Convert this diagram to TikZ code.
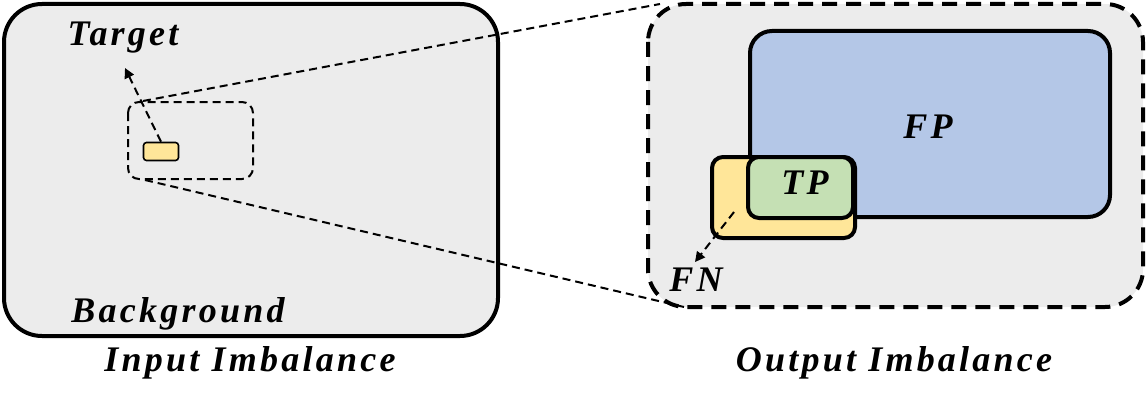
\documentclass[tikz,border=0pt]{standalone}
\usepackage{fontspec}
\setmainfont{Liberation Serif}
\usetikzlibrary{arrows.meta}
\definecolor{bgg}{HTML}{ECECEC}
\definecolor{yel}{HTML}{FFE699}
\definecolor{blu}{HTML}{B4C7E7}
\definecolor{grn}{HTML}{C5E0B4}
\begin{document}
\begin{tikzpicture}[x=1pt,y=-1pt,
  lbl/.style={font=\fontsize{36}{38}\selectfont\bfseries\itshape\addfontfeature{LetterSpace=9}},
  thick box/.style={line width=4pt},
  dline/.style={dashed,line width=2pt,dash pattern=on 8pt off 5pt}]
\useasboundingbox (0,0) rectangle (1147,404);
% left
\draw[thick box,fill=bgg,rounded corners=38pt] (4,4) rectangle (498,336);
\draw[dline,rounded corners=11pt] (128,102) rectangle (253,179);
\node[draw,line width=1.6pt,fill=yel,rounded corners=3pt,minimum width=35pt,minimum height=18pt,inner sep=0pt] (tgt) at (161,151.5) {};
\coordinate (ta) at (125,68);
\draw[dline,-{Triangle[length=10pt,width=10pt]}] (tgt.north) -- (ta);
\node[lbl] (target) at (123,38) {Target};
\node[lbl] (bg) at (178,314) {Background};
\node[lbl] (in) at (250,363) {Input Imbalance};
% right
\draw[thick box,fill=bgg,rounded corners=38pt,dashed,dash pattern=on 15pt off 9pt] (648,4) rectangle (1143,307);
\node[draw,thick box,fill=blu,rounded corners=22pt,minimum width=360pt,minimum height=186pt,inner sep=0pt] (fp) at (930,124) {};
\node[draw,thick box,fill=yel,rounded corners=11pt,minimum width=143pt,minimum height=81pt,inner sep=0pt] (fn) at (783.5,197.5) {};
\node[draw,thick box,fill=grn,rounded corners=11pt,minimum width=105pt,minimum height=61pt,inner sep=0pt] (tp) at (800.5,187.5) {};
\node[lbl] at (928,127) {FP};
\node[lbl] at (805,183) {TP};
\node[lbl] (fnl) at (696,280) {FN};
\coordinate (fa) at (734,212);
\coordinate (fb) at (695,262);
\draw[dline,-{Triangle[length=10pt,width=10pt]}] (fa) -- (fb);
\node[lbl] (out) at (894,363) {Output Imbalance};
% zoom lines
\coordinate (z1) at (143,101);
\coordinate (z2) at (660,4);
\coordinate (z3) at (145,180);
\coordinate (z4) at (684,307);
\draw[dline] (z1) -- (z2);
\draw[dline] (z3) -- (z4);
\end{tikzpicture}
\end{document}
